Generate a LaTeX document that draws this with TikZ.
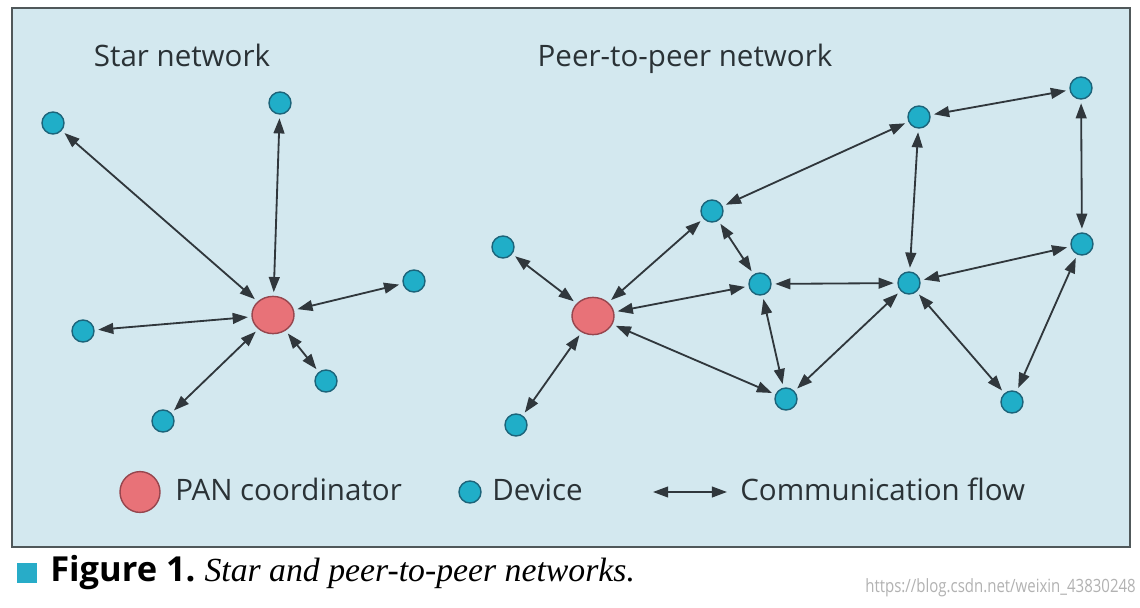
\documentclass[tikz,border=0pt]{standalone}
\usepackage{fontspec}
\setmainfont{Liberation Serif}
\setsansfont{Open Sans}
\usetikzlibrary{arrows.meta,shapes.geometric}

\definecolor{bgblue}{RGB}{211,232,239}
\definecolor{boxedge}{RGB}{80,88,90}
\definecolor{devfill}{RGB}{32,174,200}
\definecolor{devedge}{RGB}{28,100,122}
\definecolor{panfill}{RGB}{232,114,120}
\definecolor{panedge}{RGB}{150,70,78}
\definecolor{flowgray}{RGB}{48,55,60}
\definecolor{txtgray}{RGB}{42,50,54}
\definecolor{capblue}{RGB}{40,172,200}

\begin{document}
\begin{tikzpicture}[x=0.025cm,y=-0.025cm,
    dev/.style={circle,draw=devedge,fill=devfill,line width=1pt,minimum size=0.55cm,inner sep=0pt},
    pan/.style={ellipse,draw=panedge,fill=panfill,line width=1pt,minimum width=1.05cm,minimum height=0.93cm,inner sep=0pt},
    tip/.tip={Triangle[length=0.38cm,width=0.27cm]},
    flow/.style={tip-tip,draw=flowgray,line width=1.3pt,shorten >=2.5pt,shorten <=2.5pt},
    lbl/.style={text=txtgray,font=\sffamily\fontsize{21}{24}\selectfont,inner sep=0pt,anchor=base}]
        \useasboundingbox (0,0) rectangle (1140,607);
        \fill[white] (0,0) rectangle (1140,607);
        \draw[fill=bgblue,draw=boxedge,line width=1.1pt] (12,8) rectangle (1130,547);

        % star network
        \node[lbl] (starlbl) at (182,66) {Star network};
        \node[pan] (sc) at (273,315) {};
        \node[dev] (s1) at (53,123) {};
        \node[dev] (s2) at (280,103) {};
        \node[dev] (s3) at (414,281) {};
        \node[dev] (s4) at (83,331) {};
        \node[dev] (s5) at (326,381) {};
        \node[dev] (s6) at (163,421) {};
        \foreach \d in {s1,s2,s3,s4,s5,s6}
            \draw[flow] (sc) -- (\d);

        % peer-to-peer network
        \node[lbl] (p2plbl) at (685,66) {Peer-to-peer network};
        \node[pan] (pc) at (593,316) {};
        \node[dev] (pa) at (503,247) {};
        \node[dev] (pb) at (516,425) {};
        \node[dev] (pd) at (712,211) {};
        \node[dev] (pe) at (760,284) {};
        \node[dev] (pf) at (786,399) {};
        \node[dev] (pg) at (909,283) {};
        \node[dev] (ph) at (919,117) {};
        \node[dev] (pi) at (1081,88) {};
        \node[dev] (pj) at (1082,244) {};
        \node[dev] (pk) at (1012,402) {};
        \foreach \d in {pa,pb,pd,pe,pf}
            \draw[flow] (pc) -- (\d);
        \foreach \a/\b in {pd/pe,pd/ph,pe/pg,pe/pf,pg/ph,pg/pf,pg/pj,pg/pk,ph/pi,pi/pj,pj/pk}
            \draw[flow] (\a) -- (\b);

        % legend
        \node[pan,minimum width=1cm,minimum height=1.02cm] (lpan) at (140,492) {};
        \node[lbl,anchor=base west] (lpantxt) at (175,500) {PAN coordinator};
        \node[dev] (ldev) at (470,492) {};
        \node[lbl,anchor=base west] (ldevtxt) at (492,500) {Device};
        \coordinate (lfa) at (653,492);
        \coordinate (lfb) at (727,492);
        \draw[flow,shorten >=0pt,shorten <=0pt] (lfa) -- (lfb);
        \node[lbl,anchor=base west] (lflowtxt) at (740,500) {Communication flow};

        % caption
        \node[fill=capblue,minimum size=0.5cm,inner sep=0pt] (capsq) at (27,573) {};
        \node[anchor=west,inner sep=0pt,text=black] (cap) at (50,573)
            {\sffamily\bfseries\fontsize{24.5}{26}\selectfont Figure 1.\ \rmfamily\mdseries\itshape\fontsize{24}{26}\selectfont Star and peer-to-peer networks.};
        \node[anchor=east,inner sep=0pt,text=black!30,font=\sffamily\fontsize{13}{15}\selectfont] (wm) at (1136,588) {\scalebox{0.82}[1]{https://blog.csdn.net/weixin\_43830248}};
    \end{tikzpicture}
\end{document}
